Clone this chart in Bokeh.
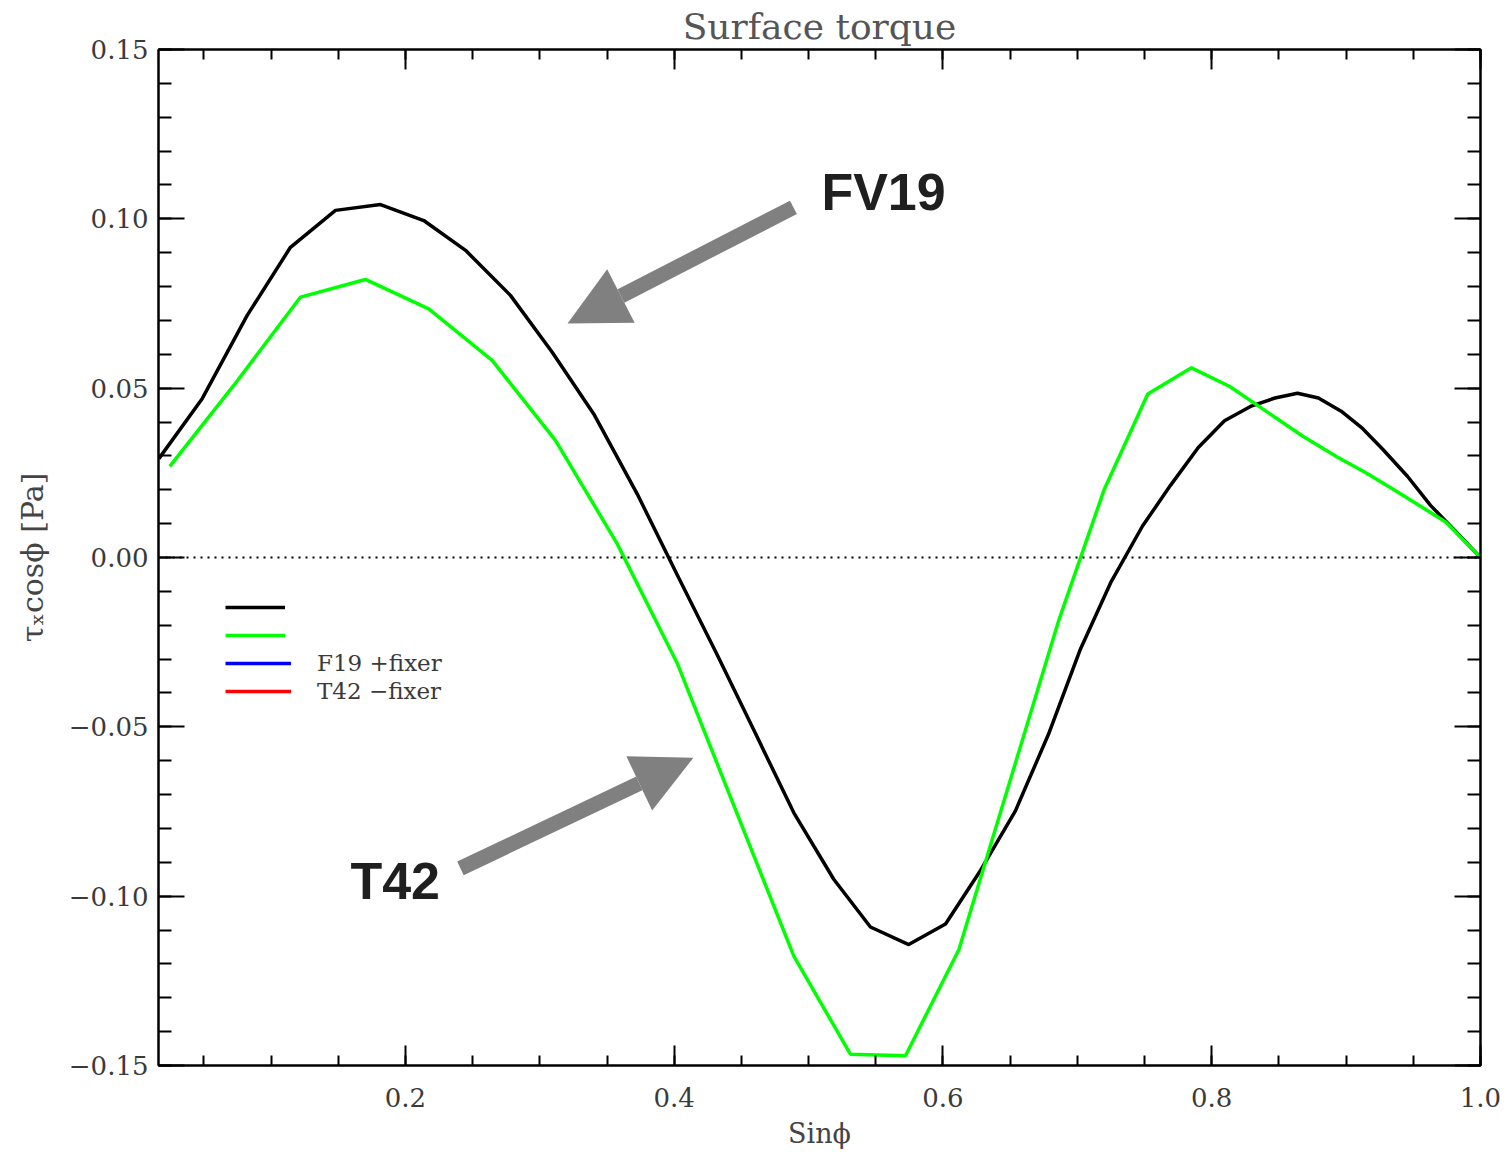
import numpy as np
from bokeh.plotting import figure
from bokeh.models import (Range1d, LinearAxis, FixedTicker, CustomJSTickFormatter, Span,
                          Arrow, NormalHead, Label, Legend, LegendItem)
from bokeh.core.properties import value
from bokeh.embed import file_html
from bokeh.resources import INLINE

# ---------------- data ----------------
fv19_x = [0.0165, 0.0487, 0.0822, 0.1144, 0.1479, 0.1814, 0.2136, 0.2447, 0.2781, 0.3092,
          0.3401, 0.3724, 0.4032, 0.4314, 0.4605, 0.4890, 0.5187, 0.5460, 0.5745, 0.6019,
          0.6279, 0.6539, 0.6785, 0.7019, 0.7252, 0.7485, 0.7693, 0.7900, 0.8095, 0.8288,
          0.8471, 0.8638, 0.8794, 0.8963, 0.9122, 0.9274, 0.9456, 0.9628, 0.9844, 1.0000]
fv19_y = [0.0292, 0.0469, 0.0715, 0.0916, 0.1025, 0.1042, 0.0995, 0.0907, 0.0774, 0.0606,
          0.0424, 0.0188, -0.0059, -0.0283, -0.0520, -0.0754, -0.0950, -0.1091, -0.1143, -0.1082,
          -0.0924, -0.0748, -0.0522, -0.0274, -0.0071, 0.0093, 0.0213, 0.0325, 0.0404, 0.0446,
          0.0471, 0.0485, 0.0471, 0.0432, 0.0381, 0.0319, 0.0240, 0.0154, 0.0065, 0.0000]

t42_x = [0.0246, 0.0722, 0.1219, 0.1702, 0.2173, 0.2645, 0.3116, 0.3575, 0.4022, 0.4890,
         0.5312, 0.5721, 0.6118, 0.6552, 0.6863, 0.7200, 0.7524, 0.7849, 0.8134, 0.8678,
         0.8937, 0.9144, 0.9353, 0.9741, 1.0000]
t42_y = [0.0269, 0.0508, 0.0769, 0.0821, 0.0734, 0.0582, 0.0346, 0.0041, -0.0312, -0.1177,
         -0.1467, -0.1471, -0.1158, -0.0590, -0.0184, 0.0201, 0.0483, 0.0560, 0.0505, 0.0358,
         0.0296, 0.0251, 0.0201, 0.0105, 0.0000]

# the blue and red series appear only in the legend (no visible curve in the picture)
f19_fix_x = [np.nan]
f19_fix_y = [np.nan]
t42_fix_x = [np.nan]
t42_fix_y = [np.nan]

x_ticks = [0.2, 0.4, 0.6, 0.8, 1.0]
y_ticks = [-0.15, -0.10, -0.05, 0.0, 0.05, 0.10, 0.15]
hidden_labels = ["FV19", "T42"]
legend_labels = ["F19 +fixer", "T42 \u2212fixer"]
colors = ["black", "#00ff00", "#0000ff", "#ff0000"]

# ---------------- figure ----------------
p = figure(width=1507, height=1152, output_backend="svg", toolbar_location=None,
           x_range=Range1d(0.0162, 1.0), y_range=Range1d(-0.15, 0.15),
           x_axis_type=None, y_axis_type=None,
           min_border_left=158, min_border_right=27, min_border_top=49, min_border_bottom=87)
p.grid.visible = False
p.outline_line_color = "black"
p.outline_line_width = 2
p.background_fill_color = "white"
p.border_fill_color = "white"

p.title.text = "Surface torque"
p.title.align = "center"
p.title.text_font = "DejaVu Serif"
p.title.text_font_style = "normal"
p.title.text_font_size = "36px"
p.title.text_color = "#555555"
p.title.standoff = 5

x_minor = [round(v, 3) for v in np.arange(0.0, 1.0001, 0.05)]
y_minor = [round(v, 3) for v in np.arange(-0.15, 0.1501, 0.01)]
xt = FixedTicker(ticks=x_ticks, minor_ticks=x_minor)
yt = FixedTicker(ticks=y_ticks, minor_ticks=y_minor)
xfmt = CustomJSTickFormatter(code="return tick.toFixed(1);")
yfmt = CustomJSTickFormatter(code="return tick.toFixed(2).replace('-', '\\u2212');")

def style(ax, major_in, minor_in, labels):
    ax.axis_line_width = 2
    ax.axis_line_color = "black"
    ax.major_tick_in = major_in
    ax.major_tick_out = 0
    ax.minor_tick_in = minor_in
    ax.minor_tick_out = 0
    ax.major_tick_line_width = 2
    ax.minor_tick_line_width = 2
    ax.major_tick_line_color = "black"
    ax.minor_tick_line_color = "black"
    ax.major_label_text_font = "DejaVu Serif"
    if labels:
        ax.major_label_text_font_size = "26px"
        ax.major_label_text_color = "#3a3a3a"
    else:
        ax.major_label_text_font_size = "1px"
        ax.major_label_text_color = None
        ax.major_label_standoff = 0

bottom = LinearAxis(ticker=xt, formatter=xfmt, axis_label="Sin\u03d5")
style(bottom, 20, 10, True)
bottom.major_label_standoff = 22
bottom.axis_label_standoff = 8
top = LinearAxis(ticker=xt, formatter=xfmt)
style(top, 20, 10, False)
left = LinearAxis(ticker=yt, formatter=yfmt, axis_label="\u03c4\u2093cos\u03d5 [Pa]")
style(left, 26, 13, True)
left.major_label_standoff = 10
left.axis_label_standoff = 16
right = LinearAxis(ticker=yt, formatter=yfmt)
style(right, 26, 13, False)
for ax in (bottom, left):
    ax.axis_label_text_font = "DejaVu Serif"
    ax.axis_label_text_font_style = "normal"
    ax.axis_label_text_color = "#444444"
bottom.axis_label_text_font_size = "27px"
left.axis_label_text_font_size = "30px"

p.add_layout(bottom, "below")
p.add_layout(top, "above")
p.add_layout(left, "left")
p.add_layout(right, "right")

p.add_layout(Span(location=0, dimension="width", line_color="black", line_width=2, line_dash="2 5"))

r_fv = p.line(fv19_x, fv19_y, line_color=colors[0], line_width=3.5)
r_t42 = p.line(t42_x, t42_y, line_color=colors[1], line_width=3.5)
r_b = p.line(f19_fix_x, f19_fix_y, line_color=colors[2], line_width=3.5)
r_r = p.line(t42_fix_x, t42_fix_y, line_color=colors[3], line_width=3.5)

leg_a = Legend(items=[LegendItem(label=value(lab), renderers=[r]) for lab, r in
                      zip(hidden_labels, [r_fv, r_t42])],
               location=(67, 416), padding=0, margin=0, spacing=0,
               glyph_height=28, glyph_width=60, label_height=28, label_standoff=30,
               label_text_font="DejaVu Serif", label_text_font_size="23px",
               label_text_color=None, background_fill_alpha=0, border_line_alpha=0)
leg_b = Legend(items=[LegendItem(label=value(lab), renderers=[r]) for lab, r in
                      zip(legend_labels, [r_b, r_r])],
               location=(67, 360), padding=0, margin=0, spacing=0,
               glyph_height=28, glyph_width=66, label_height=28, label_standoff=26,
               label_text_font="DejaVu Serif", label_text_font_size="23px",
               label_text_color="#3a3a3a", background_fill_alpha=0, border_line_alpha=0)
p.add_layout(leg_a)
p.add_layout(leg_b)

# annotations
gray = "#808080"
p.add_layout(Arrow(end=NormalHead(size=60, fill_color=gray, line_color=None),
                   x_start=0.4887, y_start=0.1034, x_end=0.3206, y_end=0.0691,
                   line_color=gray, line_width=15))
p.add_layout(Arrow(end=NormalHead(size=60, fill_color=gray, line_color=None),
                   x_start=0.2409, y_start=-0.0918, x_end=0.4143, y_end=-0.0591,
                   line_color=gray, line_width=15))
p.add_layout(Label(x=0.5095, y=0.1078, text="FV19", text_font="Liberation Sans",
                   text_font_style="bold", text_font_size="52px", text_color="#1f1f1f",
                   text_baseline="alphabetic"))
p.add_layout(Label(x=0.1590, y=-0.0954, text="T42", text_font="Liberation Sans",
                   text_font_style="bold", text_font_size="52px", text_color="#1f1f1f",
                   text_baseline="alphabetic"))

open("out.html", "w").write(file_html(p, INLINE))
